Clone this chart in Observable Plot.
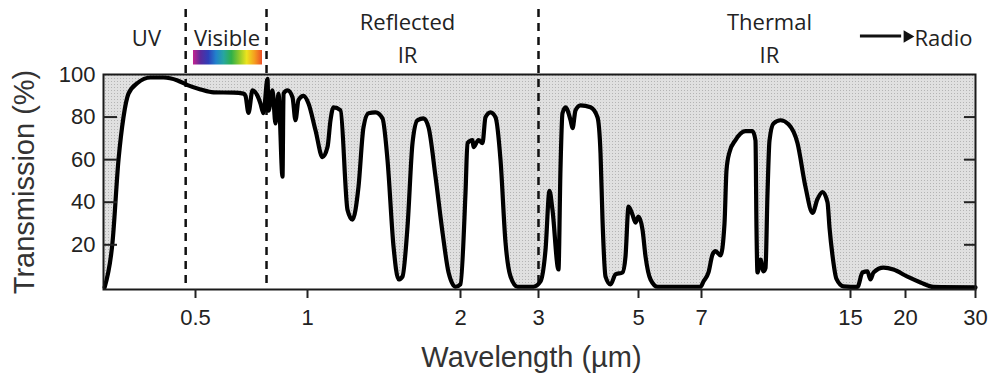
<!DOCTYPE html>
<html><head><meta charset="utf-8">
<script src="https://cdn.jsdelivr.net/npm/d3@7"></script>
<script src="https://cdn.jsdelivr.net/npm/@observablehq/plot@0.6"></script>
<style>body{margin:0;background:#fff}</style>
</head><body><div id="chart"></div>
<script>
// Atmospheric transmission (%) vs wavelength (µm)
const wavelength = [0.282,0.2963,0.3078,0.3176,0.3278,0.3469,0.3765,0.4088,0.4465,0.4755,
  0.5158,0.559,0.6325,0.6729,0.6813,0.694,0.7115,0.7338,0.7474,0.7615,0.7807,0.7856,0.8052,0.8203,
  0.8357,0.8567,0.8621,0.8836,0.9113,0.9284,0.9458,0.9755,1.0045,1.0369,1.0703,1.0949,1.1098,1.125,
  1.1613,1.1987,1.2261,1.2598,1.2887,1.3183,1.3608,1.4046,1.4369,1.4765,1.5103,1.5379,1.5732,1.6093,
  1.6462,1.6916,1.7303,1.7862,1.8438,1.8947,1.9557,2.0,2.0527,2.0742,2.1288,2.1399,2.1961,2.2422,
  2.2775,2.3376,2.3993,2.4625,2.5274,2.594,2.6901,2.9228,3.031,3.11,3.173,3.222,3.322,3.356,3.391,
  3.444,3.534,3.57,3.625,3.718,3.913,4.055,4.118,4.16,4.225,4.335,4.446,4.608,4.679,4.752,4.85,4.924,
  5.0,5.108,5.191,5.332,5.535,6.963,7.071,7.255,7.405,7.519,7.715,7.874,7.955,8.077,8.329,8.766,9.085,
  9.226,9.273,9.321,9.467,9.612,9.711,9.811,9.912,10.117,10.486,10.924,11.436,11.914,12.351,12.671,
  12.999,13.335,13.473,13.68,13.96,14.47,15.557,15.97,16.39,16.65,16.92,17.83,18.78,20.23,21.82,23.52,30];
const transmission = [0,21,60,80,91,96,98.6,98.6,97.2,95,
  93,91.6,91.5,91,90,82,92.5,90,86.4,81.8,98,83,92.5,77,
  91,52,91,92.5,89.3,78.5,88,90,86.4,73.8,61.2,65.9,78.5,84.6,
  83.2,36.4,31.8,47.2,75.2,81.8,82.2,79.4,59.8,19.2,3.7,5.1,28.5,67.8,
  78.5,79.4,75.2,51.9,25.7,7,0.3,1.5,44.4,67.8,69.2,65.9,69.2,67.8,
  79.9,82.2,79.9,59.8,21,5.1,0.3,0.3,2.8,17.8,45.3,36.4,8.4,55.1,81.8,
  84.6,78.5,74.8,83.2,85.5,84.6,79.9,63.1,31.8,5.1,1.4,6.1,7,14.5,37.9,34.1,30.4,
  33.2,27.1,14.5,3.7,0.3,0.3,2.8,7,15.4,17,15,30,55,63.5,69.2,73.4,73.4,
  69,28,7,13,7.5,9,44,69,77,78.5,76.6,67.8,47.2,35,41.5,
  44.8,40,28,15,4,0.5,0.2,7,7.5,3.7,7,9.3,8.4,5,2.3,0.2,0];

const xTicks = [0.5, 1, 2, 3, 5, 7, 15, 20, 30];
const yTickLabels = [20, 40, 60, 80, 100];
const yTickMarks = [20, 40, 60, 80];
const regionBoundaries = [0.47, 0.776, 3];

const topLabels = ["Reflected", "Thermal"];
const topLabelX = [1.573, 9.91];
const midLabels = ["UV", "Visible"];
const midLabelX = [0.367, 0.6075];
const lowLabels = ["IR", "IR"];
const lowLabelX = [1.573, 9.91];
const radioLabel = ["Radio"];
const radioX = [21.07];
const arrowShaft = [15.8, 19.6];
const arrowTip = [20.2];
const visibleBand = [0.4937, 0.7569];
const spectrumColors = ["#c4238f","#5b2a9c","#2e3fb9","#2282cc","#27a6a0","#2fb04a","#8cc82c","#ece41e","#f5a01f","#ec4f26"];

const data = wavelength.map((w, i) => ({w, t: transmission[i]}));

const labelFont = "'Open Sans', 'Noto Sans', sans-serif";
const ink = "#222";

const chart = Plot.plot({
  width: 990, height: 373,
  marginLeft: 103, marginRight: 15, marginTop: 74, marginBottom: 84,
  x: {type: "log", domain: [0.28, 0.5, 1, 2, 3, 5, 7, 15, 20, 30],
      range: [103, 195, 307, 460, 538, 638, 701, 850, 905, 975]},
  y: {domain: [-1, 100]},
  style: {fontFamily: "'Liberation Sans', Arial, sans-serif", background: "#fff", overflow: "visible", color: ink},
  marks: [
    Plot.areaY(data, {x: "w", y1: "t", y2: 100, fill: "url(#dots)", curve: "monotone-x"}),
    Plot.ruleX(regionBoundaries, {x: d => d, stroke: "#111", strokeWidth: 2.5, strokeDasharray: "8,6", insetTop: -65}),
    Plot.line(data, {x: "w", y: "t", stroke: "#000", strokeWidth: 4.2, curve: "monotone-x", strokeLinejoin: "round"}),
    Plot.frame({stroke: "#1a1a1a", strokeWidth: 2}),
    Plot.axisX({ticks: xTicks, tickSize: 9, strokeWidth: 2, tickFormat: () => "", label: null}),
    Plot.text(xTicks, {x: d => d, text: d => String(d), frameAnchor: "bottom", lineAnchor: "top", dy: 20, fontSize: 22, fill: ink}),
    Plot.axisY({ticks: yTickLabels, tickSize: 0, tickPadding: 8, fontSize: 22, label: null}),
    Plot.axisY({ticks: yTickMarks, tickSize: -14, strokeWidth: 2, tickFormat: () => "", label: null}),
    Plot.axisY({anchor: "right", ticks: yTickMarks, tickSize: -12, strokeWidth: 2, tickFormat: () => "", label: null}),
    // region labels above the frame
    Plot.text(topLabels, {x: (d, i) => topLabelX[i], text: d => d, frameAnchor: "top", lineAnchor: "bottom", dy: -45, fontFamily: labelFont, fontSize: 22, fill: ink}),
    Plot.text(midLabels, {x: (d, i) => midLabelX[i], text: d => d, frameAnchor: "top", lineAnchor: "bottom", dy: -29, fontFamily: labelFont, fontSize: 22, fill: ink}),
    Plot.text(lowLabels, {x: (d, i) => lowLabelX[i], text: d => d, frameAnchor: "top", lineAnchor: "bottom", dy: -12, fontFamily: labelFont, fontSize: 22, fill: ink}),
    Plot.text(radioLabel, {x: (d, i) => radioX[i], text: d => d, frameAnchor: "top", lineAnchor: "bottom", textAnchor: "start", dy: -29, fontFamily: labelFont, fontSize: 22, fill: ink}),
    Plot.rect([visibleBand], {x1: d => d[0], x2: d => d[1], insetTop: -24, insetBottom: 224.5, fill: "url(#spectrum)"}),
    Plot.rect([arrowShaft], {x1: d => d[0], x2: d => d[1], insetTop: -39.5, insetBottom: 251.5, fill: "#111"}),
    Plot.dot(arrowTip, {x: d => d, frameAnchor: "top", dy: -38, symbol: "triangle", rotate: 90, r: 4.6, fill: "#111", stroke: "none"}),
    // axis titles
    Plot.text(["Wavelength (µm)"], {text: d => d, frameAnchor: "bottom", lineAnchor: "middle", dy: 68, dx: -8, fontSize: 29, fill: "#333"}),
    Plot.text(["Transmission (%)"], {text: d => d, frameAnchor: "left", textAnchor: "middle", lineAnchor: "middle", rotate: -90, dx: -79, fontSize: 29, fill: "#333"})
  ]
});

const defs = d3.select(chart).insert("defs", ":first-child");
const pat = defs.append("pattern").attr("id", "dots").attr("width", 3).attr("height", 3).attr("patternUnits", "userSpaceOnUse");
pat.append("rect").attr("width", 3).attr("height", 3).attr("fill", "#e0e0e0");
pat.append("rect").attr("width", 1).attr("height", 1).attr("fill", "#b4b4b4");
const grad = defs.append("linearGradient").attr("id", "spectrum");
spectrumColors.forEach((c, i) => grad.append("stop").attr("offset", i / (spectrumColors.length - 1)).attr("stop-color", c));

document.getElementById("chart").appendChild(chart);
</script>
</body></html>
